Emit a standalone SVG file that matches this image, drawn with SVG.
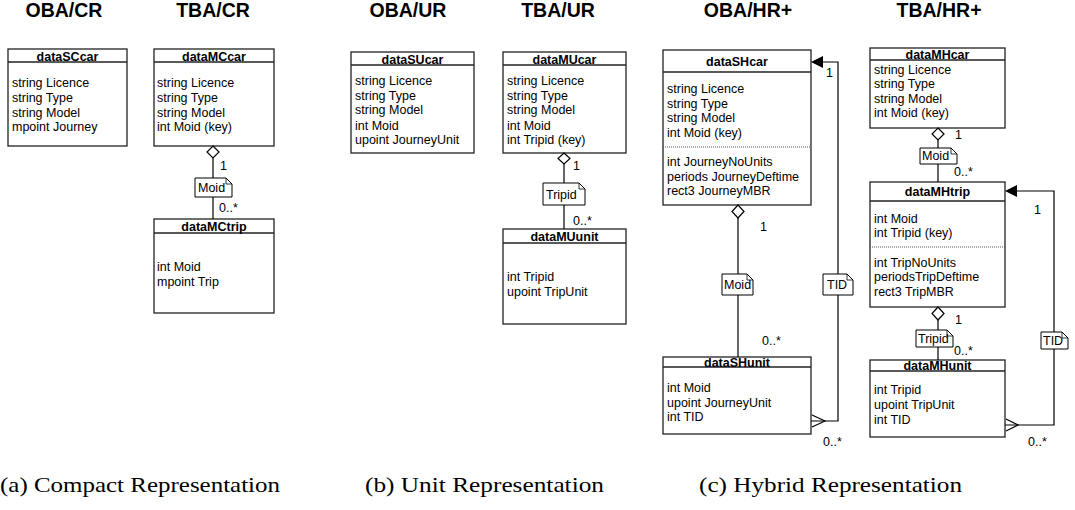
<svg xmlns="http://www.w3.org/2000/svg" width="1075" height="510" viewBox="0 0 1075 510">
<style>
text{font-family:"Liberation Sans",Arial,sans-serif;fill:#000}
.h{font-size:19.5px;font-weight:bold;text-anchor:middle}
.t{font-size:12.5px;font-weight:bold;text-anchor:middle}
.a{font-size:12.5px}
.m{font-size:12.5px}
.cap{font-family:"Liberation Serif","Times New Roman",serif;font-size:21px}
.box{fill:#fff;stroke:#222;stroke-width:1.3}
.hl{stroke:#222;stroke-width:1.5}
.dot{stroke:#555;stroke-width:1;stroke-dasharray:1 1}
.ln{fill:none;stroke:#000;stroke-width:1.2}
.dia{fill:#fff;stroke:#000;stroke-width:1.2}
.note{fill:#fff;stroke:#000;stroke-width:1}
.fold{fill:none;stroke:#000;stroke-width:0.8}
</style>

<g id="headings">
<text class="h" x="64" y="17">OBA/CR</text>
<text class="h" x="213" y="17">TBA/CR</text>
<text class="h" x="408" y="17">OBA/UR</text>
<text class="h" x="558" y="17">TBA/UR</text>
<text class="h" x="748" y="17">OBA/HR+</text>
<text class="h" x="939" y="17">TBA/HR+</text>
</g>

<g id="dataSCcar">
<rect class="box" x="8" y="49" width="119" height="97"/>
<line class="hl" x1="8" y1="62" x2="127" y2="62"/>
<text class="t" x="67.5" y="61">dataSCcar</text>
<text class="a" x="12" y="87">string Licence</text>
<text class="a" x="12" y="102">string Type</text>
<text class="a" x="12" y="117">string Model</text>
<text class="a" x="12" y="131">mpoint Journey</text>
</g>

<g id="dataMCcar">
<rect class="box" x="154" y="49" width="120" height="97"/>
<line class="hl" x1="154" y1="62" x2="274" y2="62"/>
<text class="t" x="214" y="61">dataMCcar</text>
<text class="a" x="157" y="87">string Licence</text>
<text class="a" x="157" y="102">string Type</text>
<text class="a" x="157" y="117">string Model</text>
<text class="a" x="157" y="131">int Moid (key)</text>
</g>

<g id="dataMCtrip">
<rect class="box" x="154" y="219" width="120" height="94"/>
<line class="hl" x1="154" y1="233" x2="274" y2="233"/>
<text class="t" x="214" y="231">dataMCtrip</text>
<text class="a" x="157" y="271">int Moid</text>
<text class="a" x="157" y="286">mpoint Trip</text>
</g>

<g id="dataSUcar">
<rect class="box" x="351" y="52" width="123" height="101"/>
<line class="hl" x1="351" y1="65" x2="474" y2="65"/>
<text class="t" x="412.5" y="64">dataSUcar</text>
<text class="a" x="355" y="85">string Licence</text>
<text class="a" x="355" y="100">string Type</text>
<text class="a" x="355" y="114">string Model</text>
<text class="a" x="355" y="130">int Moid</text>
<text class="a" x="355" y="144">upoint JourneyUnit</text>
</g>

<g id="dataMUcar">
<rect class="box" x="503" y="52" width="123" height="101"/>
<line class="hl" x1="503" y1="65" x2="626" y2="65"/>
<text class="t" x="564.5" y="64">dataMUcar</text>
<text class="a" x="507" y="85">string Licence</text>
<text class="a" x="507" y="100">string Type</text>
<text class="a" x="507" y="114">string Model</text>
<text class="a" x="507" y="130">int Moid</text>
<text class="a" x="507" y="144">int Tripid (key)</text>
</g>

<g id="dataMUunit">
<rect class="box" x="503" y="229" width="123" height="95"/>
<line class="hl" x1="503" y1="243" x2="626" y2="243"/>
<text class="t" x="564.5" y="241">dataMUunit</text>
<text class="a" x="507" y="281">int Tripid</text>
<text class="a" x="507" y="296">upoint TripUnit</text>
</g>

<g id="dataSHcar">
<rect class="box" x="663" y="50" width="148" height="155"/>
<line class="hl" x1="663" y1="72" x2="811" y2="72"/>
<text class="t" x="737" y="66">dataSHcar</text>
<text class="a" x="667" y="93">string Licence</text>
<text class="a" x="667" y="108">string Type</text>
<text class="a" x="667" y="122">string Model</text>
<text class="a" x="667" y="137">int Moid (key)</text>
<line class="dot" x1="663" y1="147" x2="811" y2="147"/>
<text class="a" x="667" y="166">int JourneyNoUnits</text>
<text class="a" x="667" y="181">periods JourneyDeftime</text>
<text class="a" x="667" y="195">rect3 JourneyMBR</text>
</g>

<g id="dataSHunit">
<rect class="box" x="663" y="357" width="148" height="77"/>
<line class="hl" x1="663" y1="367" x2="811" y2="367"/>
<text class="t" x="737" y="367">dataSHunit</text>
<text class="a" x="667" y="392">int Moid</text>
<text class="a" x="667" y="407">upoint JourneyUnit</text>
<text class="a" x="667" y="421">int TID</text>
</g>

<g id="dataMHcar">
<rect class="box" x="870" y="48" width="135" height="80"/>
<line class="hl" x1="870" y1="60" x2="1005" y2="60"/>
<text class="t" x="937.5" y="59">dataMHcar</text>
<text class="a" x="874" y="74">string Licence</text>
<text class="a" x="874" y="88">string Type</text>
<text class="a" x="874" y="103">string Model</text>
<text class="a" x="874" y="117">int Moid (key)</text>
</g>

<g id="dataMHtrip">
<rect class="box" x="870" y="182" width="135" height="125"/>
<line class="hl" x1="870" y1="201" x2="1005" y2="201"/>
<text class="t" x="937.5" y="196">dataMHtrip</text>
<text class="a" x="874" y="223">int Moid</text>
<text class="a" x="874" y="237">int Tripid (key)</text>
<line class="dot" x1="870" y1="247" x2="1005" y2="247"/>
<text class="a" x="874" y="267">int TripNoUnits</text>
<text class="a" x="874" y="281">periodsTripDeftime</text>
<text class="a" x="874" y="296">rect3 TripMBR</text>
</g>

<g id="dataMHunit">
<rect class="box" x="870" y="360" width="135" height="77"/>
<line class="hl" x1="870" y1="371" x2="1005" y2="371"/>
<text class="t" x="937.5" y="370">dataMHunit</text>
<text class="a" x="874" y="394">int Tripid</text>
<text class="a" x="874" y="409">upoint TripUnit</text>
<text class="a" x="874" y="424">int TID</text>
</g>

<g id="connectors">
<!-- TBA/CR -->
<line class="ln" x1="213" y1="158" x2="213" y2="219"/>
<polygon class="dia" points="213,146 219,152 213,158 207,152"/>
<path class="note" d="M195,178 H226 L232,184 V197 H195 Z"/>
<path class="fold" d="M226,178 V184 H232"/>
<text class="m" x="198" y="192">Moid</text>
<text class="m" x="220" y="170">1</text>
<text class="m" x="219" y="212">0..*</text>

<!-- TBA/UR -->
<line class="ln" x1="564" y1="164" x2="564" y2="229"/>
<polygon class="dia" points="564,153 570,158.5 564,164 558,158.5"/>
<path class="note" d="M543,183 H579 L585,189 V205 H543 Z"/>
<path class="fold" d="M579,183 V189 H585"/>
<text class="m" x="546" y="199">Tripid</text>
<text class="m" x="573" y="170">1</text>
<text class="m" x="573" y="225">0..*</text>

<!-- OBA/HR+ Moid -->
<line class="ln" x1="738" y1="218" x2="738" y2="357"/>
<polygon class="dia" points="738,205 744,211.5 738,218 732,211.5"/>
<path class="note" d="M722,274 H747 L753,280 V295 H722 Z"/>
<path class="fold" d="M747,274 V280 H753"/>
<text class="m" x="724" y="289">Moid</text>
<text class="m" x="760" y="231">1</text>
<text class="m" x="762" y="345">0..*</text>

<!-- OBA/HR+ TID -->
<polyline class="ln" points="811,421 838,421 838,62 823,62"/>
<polygon points="811,62 823,56 823,68" fill="#000"/>
<polyline class="ln" points="812,415 825,421 812,427"/>
<path class="note" d="M823,274 H847 L853,280 V295 H823 Z"/>
<path class="fold" d="M847,274 V280 H853"/>
<text class="m" x="827" y="289">TID</text>
<text class="m" x="826" y="77">1</text>
<text class="m" x="823" y="446">0..*</text>

<!-- TBA/HR+ Moid -->
<line class="ln" x1="938" y1="140" x2="938" y2="182"/>
<polygon class="dia" points="938,128 944,134 938,140 932,134"/>
<path class="note" d="M920,148 H951 L957,154 V164 H920 Z"/>
<path class="fold" d="M951,148 V154 H957"/>
<text class="m" x="922" y="160">Moid</text>
<text class="m" x="955" y="139">1</text>
<text class="m" x="954" y="176">0..*</text>

<!-- TBA/HR+ Tripid -->
<line class="ln" x1="938" y1="320" x2="938" y2="360"/>
<polygon class="dia" points="938,307 944,313.5 938,320 932,313.5"/>
<path class="note" d="M916,330 H947 L953,336 V347 H916 Z"/>
<path class="fold" d="M947,330 V336 H953"/>
<text class="m" x="918" y="343">Tripid</text>
<text class="m" x="955" y="324">1</text>
<text class="m" x="954" y="355">0..*</text>

<!-- TBA/HR+ TID -->
<polyline class="ln" points="1005,425 1054,425 1054,191 1017,191"/>
<polygon points="1005,191 1017,185 1017,197" fill="#000"/>
<polyline class="ln" points="1006,419 1018,425 1006,431"/>
<path class="note" d="M1041,332 H1062 L1068,338 V349 H1041 Z"/>
<path class="fold" d="M1062,332 V338 H1068"/>
<text class="m" x="1043" y="345">TID</text>
<text class="m" x="1034" y="214">1</text>
<text class="m" x="1028" y="446">0..*</text>
</g>

<g id="captions">
<text class="cap" x="0" y="492" textLength="280" lengthAdjust="spacingAndGlyphs">(a) Compact Representation</text>
<text class="cap" x="365" y="492" textLength="239" lengthAdjust="spacingAndGlyphs">(b) Unit Representation</text>
<text class="cap" x="699" y="492" textLength="263" lengthAdjust="spacingAndGlyphs">(c) Hybrid Representation</text>
</g>
</svg>
